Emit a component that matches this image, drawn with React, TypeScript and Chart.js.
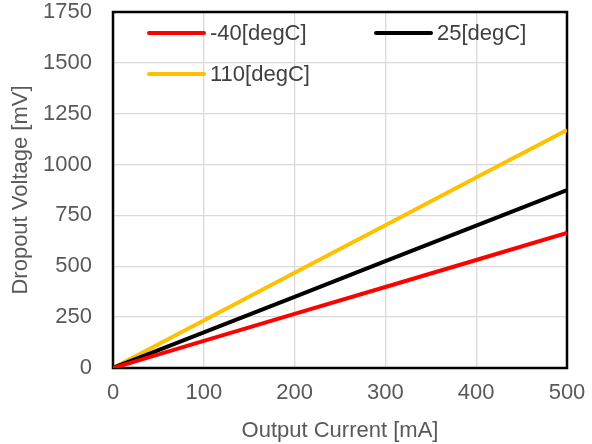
import React, { useEffect, useRef } from "react";
import { Chart, registerables } from "chart.js";

Chart.register(...registerables);

const currents = [0, 100, 200, 300, 400, 500];
const seriesM40 = [0, 133, 266, 398, 531, 664];
const series25 = [0, 175, 350, 525, 700, 875];
const series110 = [0, 234, 468, 702, 936, 1170];
const labels = ["-40[degC]", "25[degC]", "110[degC]"];
const colors = ["#FF0000", "#000000", "#FFC000"];

const FONT = "'Liberation Sans', Arial, sans-serif";
const FS = 22;

const boxPlugin = {
  id: "box",
  beforeDatasetsDraw(chart: any) {
    const { ctx, chartArea: a } = chart;
    ctx.save();
    ctx.strokeStyle = "#000";
    ctx.lineWidth = 2.5;
    ctx.strokeRect(a.left, a.top, a.right - a.left, a.bottom - a.top);
    ctx.restore();
  },
};

const legendPlugin = {
  id: "customLegend",
  afterDraw(chart: any) {
    const { ctx } = chart;
    const slots = [
      { x: 149, y: 33 },
      { x: 376, y: 33 },
      { x: 149, y: 74 },
    ];
    ctx.save();
    ctx.font = `${FS}px ${FONT}`;
    ctx.textBaseline = "middle";
    chart.data.datasets.forEach((ds: any, i: number) => {
      const s = slots[i];
      ctx.strokeStyle = ds.borderColor;
      ctx.lineWidth = 4;
      ctx.lineCap = "round";
      ctx.beginPath();
      ctx.moveTo(s.x, s.y);
      ctx.lineTo(s.x + 55, s.y);
      ctx.stroke();
      ctx.fillStyle = "#404040";
      ctx.fillText(ds.label, s.x + 61, s.y + 1);
    });
    ctx.restore();
  },
};

export default function App() {
  const ref = useRef<HTMLCanvasElement>(null);
  useEffect(() => {
    if (!ref.current) return;
    const mk = (vals: number[]) => currents.map((x, i) => ({ x, y: vals[i] }));
    const chart = new Chart(ref.current, {
      type: "line",
      data: {
        datasets: [seriesM40, series25, series110].map((v, i) => ({
          label: labels[i],
          data: mk(v),
          borderColor: colors[i],
          backgroundColor: colors[i],
          borderWidth: 4,
          pointRadius: 0,
          tension: 0,
        })),
      },
      options: {
        animation: false,
        responsive: false,
        devicePixelRatio: 1,
        layout: { padding: { top: 12, right: 25, left: 0, bottom: 0 } },
        plugins: { legend: { display: false }, tooltip: { enabled: false } },
        scales: {
          x: {
            type: "linear",
            min: 0,
            max: 500,
            ticks: { stepSize: 100, color: "#595959", font: { family: FONT, size: FS }, padding: 12 },
            grid: { color: "#d9d9d9", lineWidth: 1.3, drawTicks: false },
            border: { display: false },
            title: { display: true, text: "Output Current [mA]", color: "#595959", font: { family: FONT, size: FS }, padding: { top: 4, bottom: 0 } },
            afterFit(scale: any) {
              scale.height = 444 - 368;
              scale.paddingLeft = 0;
              scale.paddingRight = 0;
            },
          },
          y: {
            min: 0,
            max: 1750,
            ticks: {
              stepSize: 250,
              color: "#595959",
              font: { family: FONT, size: FS },
              padding: 21,
              callback: (v: any) => String(v),
            },
            grid: { color: "#d9d9d9", lineWidth: 1.3, drawTicks: false },
            border: { display: false },
            title: { display: true, text: "Dropout Voltage [mV]", color: "#595959", font: { family: FONT, size: FS }, padding: { top: 8, bottom: 0 } },
            afterFit(scale: any) {
              scale.width = 113;
              scale.paddingTop = 0;
              scale.paddingBottom = 0;
            },
          },
        },
      } as any,
      plugins: [boxPlugin, legendPlugin],
    });
    return () => chart.destroy();
  }, []);
  return (
    <div style={{ position: "fixed", left: 0, top: 0, width: 592, height: 444, background: "#fff" }}>
      <canvas ref={ref} width={592} height={444} />
    </div>
  );
}
